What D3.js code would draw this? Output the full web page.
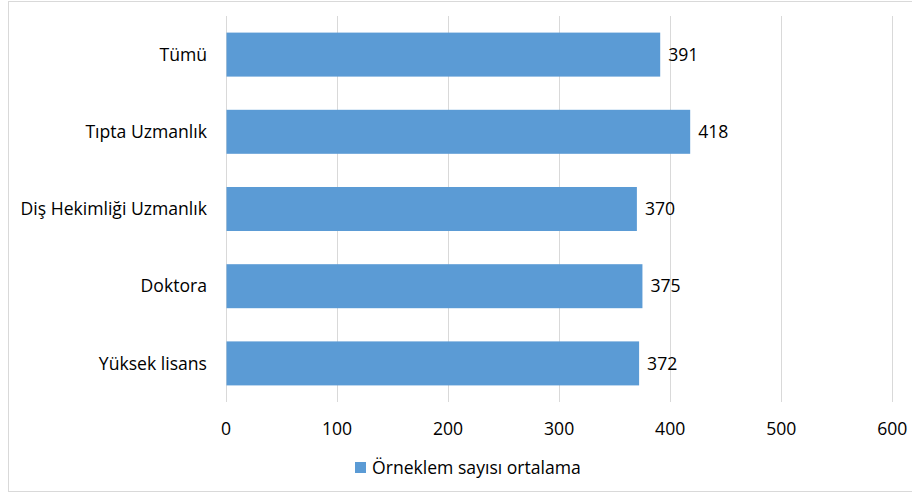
<!doctype html>
<html>
<head>
  <meta charset="utf-8">
  <title>Örneklem sayısı ortalama</title>
  <style>
    body { margin: 0; background: #fff; }
    svg text { font-family: "Open Sans", Lato, sans-serif; fill: #000; font-size: 17.6px; }
  </style>
</head>
<body>
  <div id="vis"></div>
  <script src="https://cdn.jsdelivr.net/npm/d3@7"></script>
  <script>
    var categories = ["Tümü", "Tıpta Uzmanlık", "Diş Hekimliği Uzmanlık", "Doktora", "Yüksek lisans"];
    var values = [391, 418, 370, 375, 372];
    var ticks = [0, 100, 200, 300, 400, 500, 600];
    var seriesName = "Örneklem sayısı ortalama";

    var w = 912, h = 495;
    var plotLeft = 226, plotRight = 892.3, plotTop = 16, plotBottom = 402;

    var svg = d3.select("#vis").append("svg")
      .attr("width", w)
      .attr("height", h);

    // outer chart border
    svg.append("rect")
      .attr("x", 8.5).attr("y", 1.5)
      .attr("width", 920).attr("height", 490)
      .attr("fill", "none")
      .attr("stroke", "#d9d9d9");

    var x = d3.scaleLinear().domain([0, 600]).range([plotLeft, plotRight]);
    var y = d3.scaleBand().domain(categories).range([plotTop, plotBottom])
      .paddingInner(0.43).paddingOuter(0.215);

    // grid
    svg.selectAll("line.grid")
      .data(ticks)
      .enter().append("line")
      .attr("class", "grid")
      .attr("x1", function(d){ return Math.round(x(d)) + 0.5; })
      .attr("x2", function(d){ return Math.round(x(d)) + 0.5; })
      .attr("y1", plotTop).attr("y2", plotBottom)
      .attr("stroke", "#d9d9d9")
      .attr("stroke-width", 1);

    // x tick labels
    svg.selectAll("text.xt")
      .data(ticks)
      .enter().append("text")
      .attr("class", "xt")
      .attr("x", function(d){ return x(d); })
      .attr("y", 429)
      .attr("dy", "0.35em")
      .attr("text-anchor", "middle")
      .text(function(d){ return d; });

    // category labels
    svg.selectAll("text.cat")
      .data(categories)
      .enter().append("text")
      .attr("class", "cat")
      .attr("x", 207)
      .attr("y", function(d){ return y(d) + y.bandwidth() / 2; })
      .attr("dy", "0.35em")
      .attr("text-anchor", "end")
      .text(function(d){ return d; });

    // bars
    svg.selectAll("rect.bar")
      .data(values)
      .enter().append("rect")
      .attr("class", "bar")
      .attr("x", x(0) + 0.5)
      .attr("y", function(d, i){ return y(categories[i]); })
      .attr("width", function(d){ return x(d) - x(0) - 0.5; })
      .attr("height", y.bandwidth())
      .attr("fill", "#5b9bd5");

    // value labels
    svg.selectAll("text.val")
      .data(values)
      .enter().append("text")
      .attr("class", "val")
      .attr("x", function(d){ return x(d) + 8; })
      .attr("y", function(d, i){ return y(categories[i]) + y.bandwidth() / 2; })
      .attr("dy", "0.35em")
      .text(function(d){ return d; });

    // legend
    var lg = svg.append("g").attr("transform", "translate(355,462)");
    lg.append("rect").attr("width", 11).attr("height", 11).attr("fill", "#5b9bd5");
    lg.append("text")
      .attr("x", 17).attr("y", 5.5)
      .attr("dy", "0.35em")
      .text(seriesName);
  </script>
</body>
</html>
